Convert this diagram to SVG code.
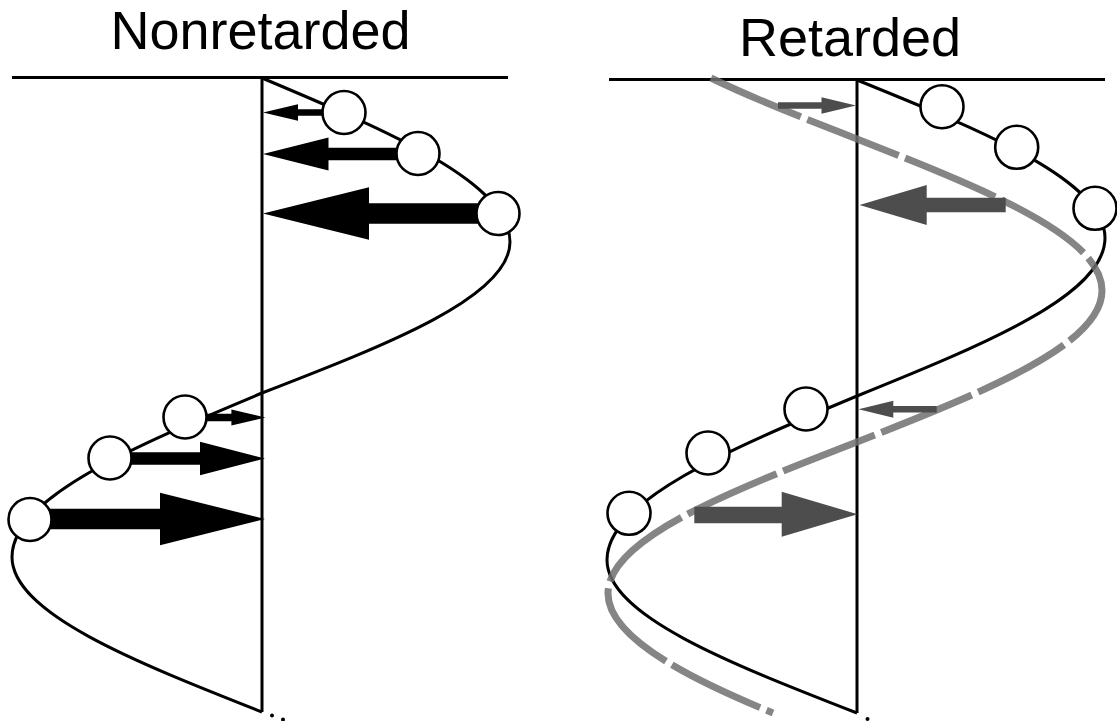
<svg xmlns="http://www.w3.org/2000/svg" width="1117" height="721" viewBox="0 0 1117 721">
<style>
.title{font-family:"Liberation Sans",Arial,sans-serif;font-size:54px;fill:#000;text-anchor:middle}
.axis{stroke:#000;stroke-width:3;fill:none}
.wave{stroke:#000;stroke-width:3;fill:none}
.ret{stroke:#707070;stroke-opacity:0.85;stroke-width:7;fill:none;stroke-dasharray:98 7}
.bead{fill:#fff;stroke:#000;stroke-width:2.6}
.fk{fill:#000}
.fg{fill:#4d4d4d}
.dot{fill:#000}
</style>
<rect width="1117" height="721" fill="#fff"/>
<g id="nonretarded">
  <text class="title" x="260.5" y="49">Nonretarded</text>
  <line class="axis" x1="12" y1="77.5" x2="508" y2="77.5"/>
  <line class="axis" x1="262" y1="77.5" x2="262" y2="712"/>
  <path class="wave" d="M262,78 C389,131.5 510,182.6 510,242 C510,296.7 389,343.8 262,393 C133.9,446.5 12,497.6 12,557 C12,613.1 133.9,661.5 262,712"/>
  <g id="forces-left">
    <polygon class="fk" points="263,112.5 298,104.2 298,109.2 344,109.2 344,115.8 298,115.8 298,120.8"/>
    <polygon class="fk" points="263,154 328.5,137.5 328.5,147.8 418,147.8 418,160.2 328.5,160.2 328.5,170.5"/>
    <polygon class="fk" points="263,213.5 369,187.2 369,203.2 498,203.2 498,223.8 369,223.8 369,239.8"/>
    <polygon class="fk" points="265.4,417.5 231.4,409.5 231.4,413.7 185,413.7 185,421.3 231.4,421.3 231.4,425.5"/>
    <polygon class="fk" points="265,458.5 200,441.7 200,452.3 110,452.3 110,464.7 200,464.7 200,475.3"/>
    <polygon class="fk" points="265,519 160,492.7 160,508.7 30,508.7 30,529.3 160,529.3 160,545.3"/>
  </g>
  <g id="beads-left">
    <circle class="bead" cx="344" cy="112.5" r="21.5"/>
    <circle class="bead" cx="418" cy="153.5" r="21.5"/>
    <circle class="bead" cx="498" cy="213.5" r="21.5"/>
    <circle class="bead" cx="185" cy="417" r="21.5"/>
    <circle class="bead" cx="110" cy="458" r="21.5"/>
    <circle class="bead" cx="30" cy="519.5" r="21.5"/>
  </g>
  <circle class="dot" cx="272" cy="715.5" r="2"/>
  <circle class="dot" cx="283" cy="719.5" r="2"/>
</g>
<g id="retarded">
  <text class="title" x="850" y="56">Retarded</text>
  <line class="axis" x1="609" y1="79.5" x2="1105" y2="79.5"/>
  <line class="axis" x1="857" y1="79.5" x2="857" y2="713"/>
  <path class="wave" d="M857,80 C984,131.5 1105,180.8 1105,238 C1105,295.2 984,344.5 857,396 C728.9,449.5 607,500.6 607,560 C607,615.4 728.9,663.1 857,713"/>
  <g id="beads-right">
    <circle class="bead" cx="942" cy="106.7" r="21.5"/>
    <circle class="bead" cx="1016.7" cy="147.3" r="21.5"/>
    <circle class="bead" cx="1095" cy="208.3" r="21.5"/>
    <circle class="bead" cx="806" cy="409" r="21.5"/>
    <circle class="bead" cx="708" cy="453" r="21.5"/>
    <circle class="bead" cx="629" cy="513.3" r="21.5"/>
  </g>
  <path id="retarded-wave" class="ret" d="M711,78 C752.7,98.3 805.4,118.7 857,139 C982.5,188.4 1102,235.7 1102,290.5 C1102,345.3 982.5,392.6 857,442 C729.4,491.4 608,538.7 608,593.5 C608,633.7 675,673 773,713"/>
  <g id="forces-right">
    <polygon class="fg" points="856,105.5 821.5,97.2 821.5,102.2 778,102.2 778,108.8 821.5,108.8 821.5,113.8"/>
    <polygon class="fg" points="859.5,205 926.7,185 926.7,197.7 1005.7,197.7 1005.7,212.3 926.7,212.3 926.7,225"/>
    <polygon class="fg" points="858.5,409.3 893.3,400.8 893.3,406 936.7,406 936.7,412.6 893.3,412.6 893.3,417.8"/>
    <polygon class="fg" points="857.5,514.2 781.7,491.7 781.7,506.7 694.3,506.7 694.3,523.3 781.7,523.3 781.7,536.7"/>
  </g>
  <circle class="dot" cx="867.5" cy="719" r="2"/>
</g>
</svg>
